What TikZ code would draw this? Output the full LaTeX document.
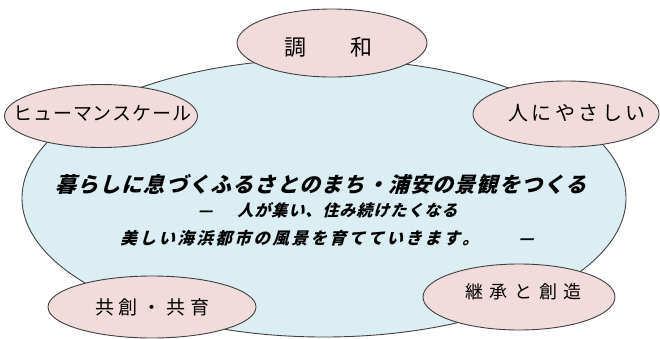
\documentclass[tikz,border=0pt]{standalone}
\usepackage{fontspec}
\newfontfamily\jp{Noto Sans CJK JP}
\newfontfamily\jpi{Noto Sans CJK JP}[FakeSlant=0.28]
\makeatletter
\newcommand\spc[2]{\def\spc@k{#1}\spc@a#2\relax\unkern}
\def\spc@a#1{\ifx\relax#1\else#1\kern\spc@k\expandafter\spc@a\fi}
\makeatother
\definecolor{bluefill}{HTML}{DAEEF3}
\definecolor{pinkfill}{HTML}{F2DCDB}
\definecolor{edge}{HTML}{404040}
\tikzset{
  bigoval/.style={ellipse, draw=edge, line width=0.9pt, fill=bluefill, inner sep=0pt},
  oval/.style={ellipse, draw=edge, line width=0.9pt, fill=pinkfill, inner sep=0pt},
  lbl/.style={inner sep=0pt, font=\jp, text=black},
  msg/.style={inner sep=0pt, font=\jpi\bfseries, text=black}
}
\usetikzlibrary{shapes.geometric}
\begin{document}
\begin{tikzpicture}[x=1pt,y=-1pt]
\useasboundingbox (0,0) rectangle (660,338);
% central oval
\node[bigoval, minimum width=604pt, minimum height=278pt] (core) at (324,198) {};
% satellite ovals
\node[oval, minimum width=190pt, minimum height=68pt] (harmony) at (332,43) {};
\node[oval, minimum width=193pt, minimum height=63pt] (human) at (101,116) {};
\node[oval, minimum width=186pt, minimum height=66pt] (kind) at (566,114) {};
\node[oval, minimum width=208pt, minimum height=62pt] (cocreate) at (152,307) {};
\node[oval, minimum width=192pt, minimum height=66pt] (inherit) at (519,297) {};
% labels
\node[lbl, font=\jp\fontsize{22}{24}\selectfont] (tharmony) at (328,47) {調\hspace{44pt}和};
\node[lbl, font=\jp\fontsize{19}{21}\selectfont] (thuman) at (102.5,113) {\spc{0.9pt}{ヒューマンスケール}};
\node[lbl, font=\jp\fontsize{20}{22}\selectfont] (tkind) at (577,113) {\spc{3.5pt}{人にやさしい}};
\node[lbl, font=\jp\fontsize{19}{21}\selectfont] (tcocreate) at (152.5,307) {\spc{5pt}{共創・共育}};
\node[lbl, font=\jp\fontsize{18}{20}\selectfont] (tinherit) at (523.5,292) {\spc{6.6pt}{継承と創造}};
% message
\node[msg, font=\jpi\bfseries\fontsize{21}{23}\selectfont] (line1) at (321,184) {\spc{1.2pt}{暮らしに息づくふるさとのまち・浦安の景観をつくる}};
\node[msg, font=\jpi\bfseries\fontsize{16}{18}\selectfont] (line2) at (327.5,210) {—\hspace{25pt}\spc{1pt}{人が集い、住み続けたくなる}};
\node[msg, font=\jpi\bfseries\fontsize{16.5}{18}\selectfont] (line3) at (327,238) {\spc{2.5pt}{美しい海浜都市の風景を育てていきます。}\hspace{39.5pt}—};
\end{tikzpicture}
\end{document}
